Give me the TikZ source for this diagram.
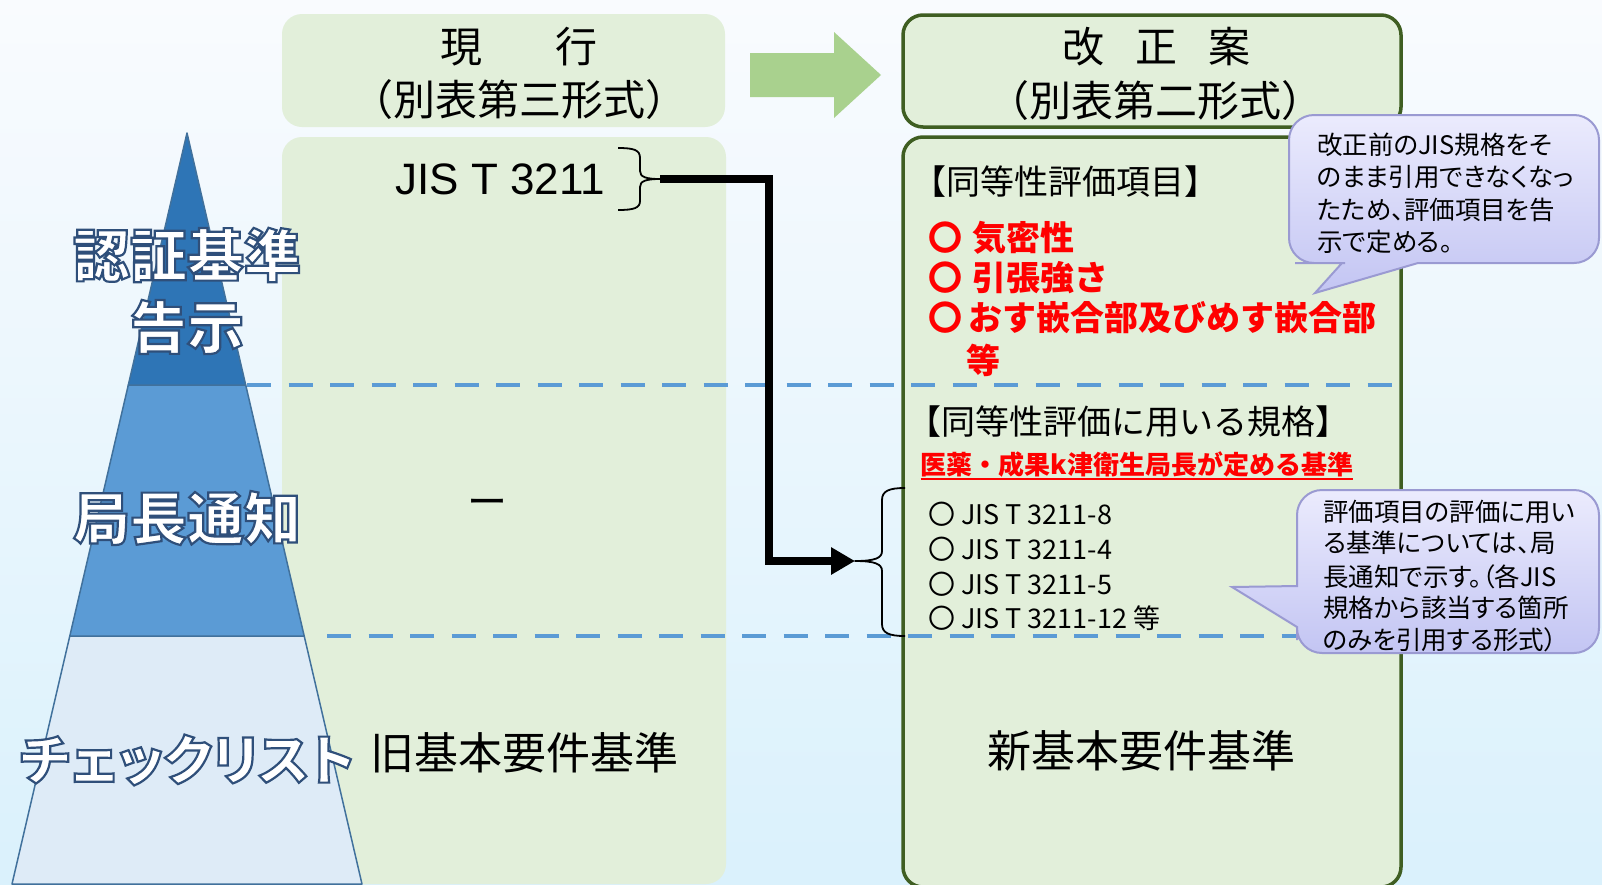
\documentclass[tikz,border=0pt]{standalone}
\usepackage{fontspec}
\setmainfont{Noto Sans CJK JP}
\newfontfamily\jpp{Noto Sans CJK JP}[RawFeature=+palt]
\newfontfamily\arialf{Liberation Sans}
\usetikzlibrary{arrows.meta}
\newcommand\outlinedtext[1]{\special{pdf:literal 2 Tr 2.2 w 0.184 0.310 0.478 RG}#1\special{pdf:literal 0 Tr 1 w}}
\definecolor{bgtop}{HTML}{F9FBFE}
\definecolor{bgbot}{HTML}{DAF1FC}
\definecolor{boxgreen}{HTML}{E2EFDA}
\definecolor{boxborder}{HTML}{3F5E22}
\definecolor{arrowgreen}{HTML}{A9D18E}
\definecolor{pyrA}{HTML}{2E75B6}
\definecolor{pyrB}{HTML}{5B9BD5}
\definecolor{pyrC}{HTML}{DEEBF7}
\definecolor{pyrline}{HTML}{41719C}
\definecolor{dashblue}{HTML}{5B9BD5}
\definecolor{callA}{HTML}{EBEBFD}
\definecolor{callB}{HTML}{C3C5F3}
\definecolor{callline}{HTML}{9A9AD2}
\definecolor{redtext}{HTML}{FF0000}
\tikzset{
  txt/.style={inner sep=0pt, text=black},
  hdr/.style={txt, font=\fontsize{42}{48}\selectfont},
  bigtxt/.style={txt, font=\fontsize{44}{50}\selectfont},
  sect/.style={txt, font=\fontsize{34}{40}\selectfont},
  reditem/.style={txt, anchor=west, text=redtext, font=\fontsize{34}{40}\selectfont\bfseries},
  jisitem/.style={txt, anchor=west, font=\fontsize{27}{30}\selectfont},
  callt/.style={txt, anchor=west, font=\jpp\fontsize{25.5}{30}\selectfont},
  plabel/.style={inner sep=0pt, text=white, font=\fontsize{57}{62}\selectfont\bfseries},
  greenbox/.style={fill=boxgreen, rounded corners=20pt},
  framebox/.style={fill=boxgreen, draw=boxborder, line width=3.5pt, rounded corners=20pt},
  pyr/.style={draw=pyrline, line width=1.5pt, line join=round},
  levelline/.style={dashblue, line width=4.5pt, dash pattern=on 24pt off 17.5pt},
  bracestyle/.style={line width=1.8pt, line join=round},
  callout/.style={top color=callA, bottom color=callB, draw=callline, line width=2pt}
}
\begin{document}
\begin{tikzpicture}[x=1pt, y=-1pt]
\useasboundingbox (0,0) rectangle (1602,884);
\shade[top color=bgtop, bottom color=bgbot] (0,0) rectangle (1602,884);

% left column
\fill[greenbox] (282,14) rectangle (725,127);
\fill[greenbox] (282,137) rectangle (726,884);

% pyramid
\path[pyr, fill=pyrC] (69.8,636) -- (304.2,636) -- (362,884) -- (12,884) -- cycle;
\path[pyr, fill=pyrB] (128.3,385) -- (245.7,385) -- (304.2,636) -- (69.8,636) -- cycle;
\path[pyr, fill=pyrA] (187,133) -- (245.7,385) -- (128.3,385) -- cycle;

% right column
\path[framebox] (903,15) rectangle (1401,127);
\path[framebox] (903,137) rectangle (1401,887);

% green arrow
\fill[arrowgreen] (750,53) -- (834,53) -- (834,32) -- (881,75) -- (834,118) -- (834,97) -- (750,97) -- cycle;

% level lines
\draw[levelline] (247,385) -- (1401,385);
\draw[levelline] (327,636) -- (1401,636);

% headers
\node[hdr] (curh) at (519,47) {現\hspace{74pt}行};
\node[hdr] (curf) at (519.5,100) {（別表第三形式）};
\node[hdr] (newh) at (1156,47) {改\hspace{31pt}正\hspace{31pt}案};
\node[hdr] (newf) at (1155.5,101) {（別表第二形式）};

% pyramid labels
\node[plabel] (l1) at (187,255) {\outlinedtext{認証基準}};
\node[plabel] (l2) at (187,327) {\outlinedtext{告示}};
\node[plabel] (l3) at (187,518) {\outlinedtext{局長通知}};
\node[plabel, font=\jpp\fontsize{54}{58}\selectfont\bfseries] (l4) at (187,760) {\outlinedtext{チェックリスト}};

% left column content
\node[txt, font=\arialf\fontsize{44}{50}\selectfont] (jis) at (500,179) {JIS T 3211};
\node[txt, font=\fontsize{40}{44}\selectfont] (dash) at (487,508) {ー};
\node[bigtxt] (old) at (524.5,753) {旧基本要件基準};
\node[bigtxt] (new) at (1141,751) {新基本要件基準};

% braces
\coordinate (lbtip) at (660,179);
\coordinate (rbtip) at (855,561);
\draw[bracestyle] (618,148) .. controls (634,148) and (640,150) .. (640,158) -- (640,171)
  .. controls (640,177) and (646,179) .. (lbtip)
  .. controls (646,179) and (640,181) .. (640,187) -- (640,201)
  .. controls (640,208) and (634,210) .. (618,210);
\draw[bracestyle] (905,488) .. controls (889,488) and (882,491) .. (882,500) -- (882,551)
  .. controls (882,558) and (875,561) .. (rbtip)
  .. controls (875,561) and (882,564) .. (882,571) -- (882,624)
  .. controls (882,633) and (889,636) .. (905,636);

% connector
\coordinate (bend1) at (769,179);
\coordinate (bend2) at (769,561);
\draw[line width=8pt, -{Triangle[length=24pt,width=26pt]}] (lbtip) -- (bend1) -- (bend2) -- (rbtip);

% right content
\node[sect] (s1) at (1065,182) {【同等性評価項目】};
\node[reditem] (r1) at (928,238) {〇\hspace{10pt}気密性};
\node[reditem] (r2) at (928,278) {〇\hspace{10pt}引張強さ};
\node[reditem] (r3) at (928,318) {〇\hspace{6pt}おす嵌合部及びめす嵌合部};
\node[reditem] (r4) at (966,360) {等};
\node[sect] (s2) at (1128,422) {【同等性評価に用いる規格】};
\node[txt, text=redtext, font=\fontsize{26}{30}\selectfont\bfseries] (u) at (1137,465) {医薬・成果k津衛生局長が定める基準};
\draw[redtext, line width=2pt] ([yshift=-1pt]u.south west) -- ([yshift=-1pt]u.south east);
\node[jisitem] (j1) at (928,514) {〇 JIS T 3211-8};
\node[jisitem] (j2) at (928,549) {〇 JIS T 3211-4};
\node[jisitem] (j3) at (928,584) {〇 JIS T 3211-5};
\node[jisitem] (j4) at (928,618) {〇 JIS T 3211-12 等};

% callouts
\path[callout] (1342,263) -- (1315,293) -- (1418,263) -- (1500,263) [rounded corners=25pt] -- (1599,263) -- (1599,115) -- (1289,115) -- (1289,263) -- (1320,263) [sharp corners] -- cycle;
\node[callt] (c11) at (1317,145) {改正前のJIS規格をそ};
\node[callt] (c12) at (1317,177) {のまま引用できなくなっ};
\node[callt] (c13) at (1317,210) {たため、評価項目を告};
\node[callt] (c14) at (1317,242) {示で定める。};

\path[callout] (1297,586) -- (1232,587) -- (1297,627) -- (1297,640) [rounded corners=25pt] -- (1297,653) -- (1599,653) -- (1599,490) -- (1297,490) -- (1297,560) [sharp corners] -- cycle;
\node[callt] (c21) at (1323,512) {評価項目の評価に用い};
\node[callt] (c22) at (1323,543) {る基準については、局};
\node[callt] (c23) at (1323,577) {長通知で示す。（各JIS};
\node[callt] (c24) at (1323,608) {規格から該当する箇所};
\node[callt] (c25) at (1323,640) {のみを引用する形式）};
\end{tikzpicture}
\end{document}
